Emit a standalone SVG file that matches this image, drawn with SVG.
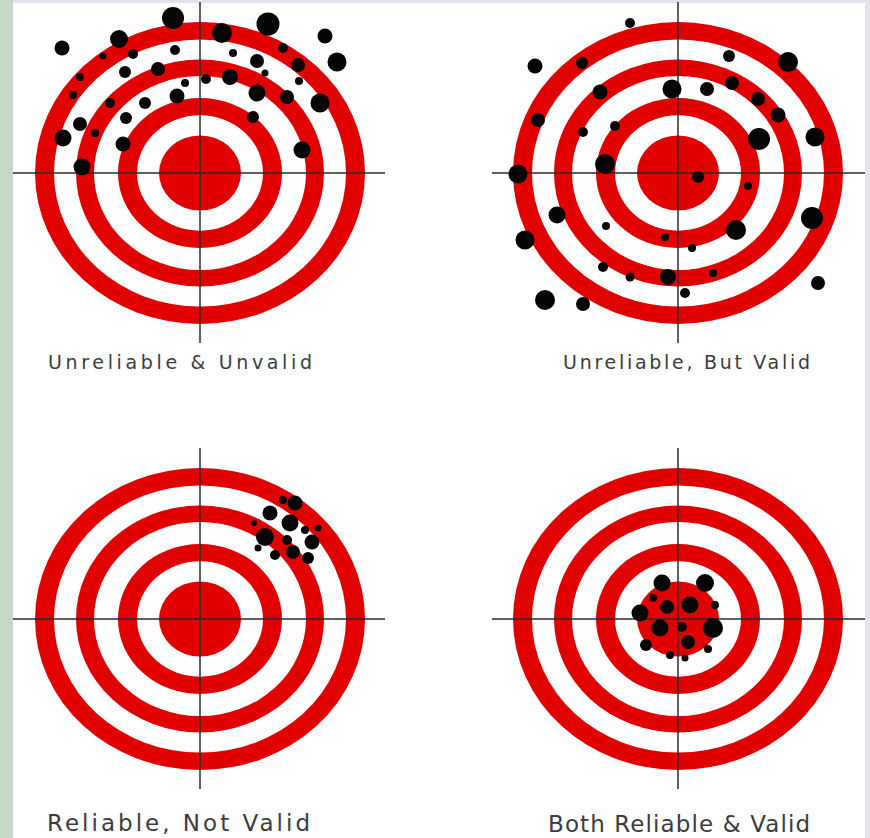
<svg xmlns="http://www.w3.org/2000/svg" xmlns:xlink="http://www.w3.org/1999/xlink" width="870" height="838" viewBox="0 0 870 838">
<style>
.red{fill:#e00000}
.wht{fill:#ffffff}
.cross{stroke:#2a2a2a;stroke-width:1.5;fill:none}
.dots circle{fill:#050505}
.lbl{font-family:"DejaVu Sans","Liberation Sans",sans-serif;fill:#3c3c3c}
.top{font-size:19px}
.bot{font-size:23px}
</style>
<defs>
<g id="rings">
<circle class="red" r="165"/>
<circle class="wht" r="146"/>
<circle class="red" r="124"/>
<circle class="wht" r="106"/>
<circle class="red" r="82"/>
<circle class="wht" r="63"/>
<circle class="red" r="41"/>
</g>
</defs>
<rect x="0" y="0" width="870" height="838" fill="#ffffff"/>
<rect x="0" y="0" width="13" height="838" fill="#c6d8c6"/>
<rect x="13" y="0" width="857" height="3" fill="#e4e3ec"/>
<rect x="865" y="0" width="5" height="838" fill="#e6e2f0"/>

<g id="target-unreliable-unvalid">
<use xlink:href="#rings" href="#rings" transform="translate(200,173) scale(1,0.915)"/>
<line class="cross" x1="13" y1="173" x2="385" y2="173"/>
<line class="cross" x1="200" y1="2" x2="200" y2="343"/>
<g class="dots">
<circle cx="62" cy="48" r="7.5"/><circle cx="119" cy="39" r="9"/><circle cx="173" cy="18" r="11"/>
<circle cx="175" cy="50" r="5"/><circle cx="133" cy="54" r="5"/><circle cx="103" cy="56" r="3.5"/>
<circle cx="125" cy="72" r="6"/><circle cx="158" cy="69" r="7"/><circle cx="185" cy="83" r="4"/>
<circle cx="177" cy="96" r="7.5"/><circle cx="206" cy="79" r="5"/><circle cx="222" cy="33" r="10"/>
<circle cx="80" cy="77" r="4"/><circle cx="73" cy="95" r="4"/><circle cx="110" cy="103" r="5"/>
<circle cx="145" cy="103" r="6"/><circle cx="80" cy="124" r="7"/><circle cx="126" cy="118" r="6"/>
<circle cx="63" cy="138" r="8.5"/><circle cx="95" cy="133" r="4"/><circle cx="123" cy="144" r="7.5"/>
<circle cx="82" cy="167" r="8.5"/><circle cx="268" cy="24" r="11.5"/><circle cx="325" cy="36" r="7.5"/>
<circle cx="337" cy="62" r="9.5"/><circle cx="233" cy="53" r="4"/><circle cx="257" cy="61" r="7"/>
<circle cx="283" cy="48" r="5"/><circle cx="298" cy="65" r="7"/><circle cx="265" cy="73" r="3.5"/>
<circle cx="230" cy="77" r="8"/><circle cx="299" cy="81" r="4"/><circle cx="257" cy="93" r="8.5"/>
<circle cx="287" cy="97" r="7"/><circle cx="320" cy="103" r="9.5"/><circle cx="253" cy="117" r="6"/>
<circle cx="302" cy="150" r="8.5"/>
</g>
<text class="lbl top" x="48" y="369" textLength="264" lengthAdjust="spacing">Unreliable &amp; Unvalid</text>
</g>

<g id="target-unreliable-valid">
<use xlink:href="#rings" href="#rings" transform="translate(678,173) scale(1,0.915)"/>
<line class="cross" x1="492" y1="173" x2="865" y2="173"/>
<line class="cross" x1="678" y1="2" x2="678" y2="343"/>
<g class="dots">
<circle cx="630" cy="23" r="5"/><circle cx="535" cy="66" r="7.5"/><circle cx="582" cy="63" r="6"/>
<circle cx="600" cy="92" r="7.5"/><circle cx="672" cy="89" r="9.5"/><circle cx="538" cy="120" r="7"/>
<circle cx="615" cy="126" r="5"/><circle cx="583" cy="132" r="5"/><circle cx="605" cy="164" r="10"/>
<circle cx="518" cy="174" r="9.5"/><circle cx="729" cy="56" r="6"/><circle cx="788" cy="62" r="10"/>
<circle cx="707" cy="89" r="7"/><circle cx="732" cy="83" r="7"/><circle cx="758" cy="99" r="7"/>
<circle cx="778" cy="115" r="7.5"/><circle cx="759" cy="139" r="11"/><circle cx="815" cy="137" r="9.5"/>
<circle cx="557" cy="215" r="8.5"/><circle cx="525" cy="240" r="9.5"/><circle cx="606" cy="226" r="4"/>
<circle cx="665" cy="237" r="4"/><circle cx="603" cy="267" r="5"/><circle cx="630" cy="277" r="4.5"/>
<circle cx="668" cy="277" r="8"/><circle cx="545" cy="300" r="10"/><circle cx="583" cy="304" r="7"/>
<circle cx="698" cy="177" r="6"/><circle cx="748" cy="186" r="4"/><circle cx="736" cy="230" r="10"/>
<circle cx="812" cy="218" r="11"/><circle cx="692" cy="248" r="4"/><circle cx="713" cy="273" r="4"/>
<circle cx="685" cy="293" r="5"/><circle cx="818" cy="283" r="7"/>
</g>
<text class="lbl top" x="563" y="369" textLength="247" lengthAdjust="spacing">Unreliable, But Valid</text>
</g>

<g id="target-reliable-not-valid">
<use xlink:href="#rings" href="#rings" transform="translate(200,619) scale(1,0.915)"/>
<line class="cross" x1="13" y1="619" x2="385" y2="619"/>
<line class="cross" x1="200" y1="448" x2="200" y2="789"/>
<g class="dots">
<circle cx="270" cy="513" r="7.5"/><circle cx="295" cy="503" r="7.5"/><circle cx="290" cy="523" r="8.5"/>
<circle cx="265" cy="537" r="9"/><circle cx="287" cy="540" r="5"/><circle cx="312" cy="542" r="7.5"/>
<circle cx="275" cy="555" r="5"/><circle cx="293" cy="552" r="7"/><circle cx="308" cy="558" r="6"/>
<circle cx="283" cy="500" r="4"/><circle cx="305" cy="530" r="4"/><circle cx="258" cy="548" r="3.5"/>
<circle cx="318" cy="528" r="3.5"/><circle cx="254" cy="523" r="3"/>
</g>
<text class="lbl bot" x="47" y="831" textLength="263" lengthAdjust="spacing">Reliable, Not Valid</text>
</g>

<g id="target-reliable-valid">
<use xlink:href="#rings" href="#rings" transform="translate(678,619) scale(1,0.915)"/>
<line class="cross" x1="492" y1="619" x2="865" y2="619"/>
<line class="cross" x1="678" y1="448" x2="678" y2="789"/>
<g class="dots">
<circle cx="662" cy="583" r="8.5"/><circle cx="705" cy="583" r="9"/><circle cx="640" cy="613" r="8.5"/>
<circle cx="667" cy="607" r="7"/><circle cx="690" cy="605" r="8.5"/><circle cx="653" cy="598" r="4"/>
<circle cx="715" cy="605" r="4"/><circle cx="660" cy="628" r="8.5"/><circle cx="682" cy="627" r="5"/>
<circle cx="713" cy="628" r="10"/><circle cx="646" cy="645" r="6"/><circle cx="688" cy="642" r="7"/>
<circle cx="708" cy="649" r="4"/><circle cx="670" cy="655" r="4"/><circle cx="685" cy="658" r="3.5"/>
</g>
<text class="lbl bot" x="548" y="832" textLength="262" lengthAdjust="spacing">Both Reliable &amp; Valid</text>
</g>
</svg>
